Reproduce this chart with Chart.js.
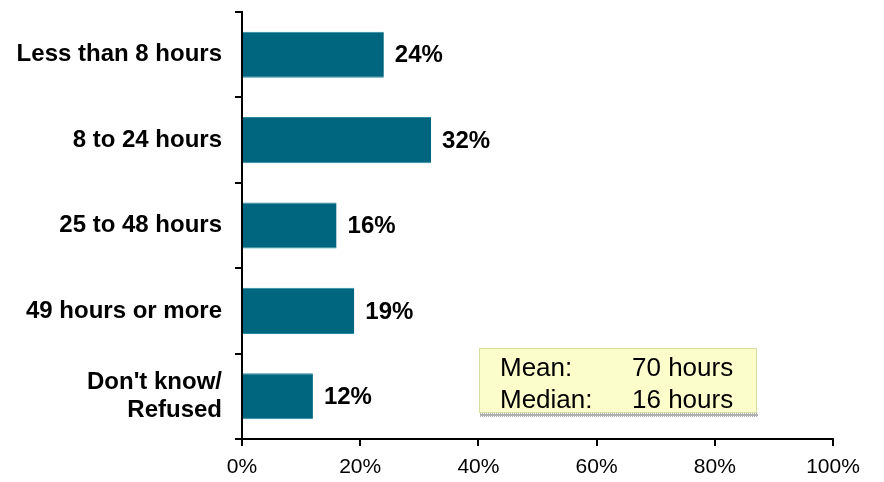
<!DOCTYPE html>
<html>
<head>
<meta charset="utf-8">
<script src="https://cdn.jsdelivr.net/npm/chart.js@4.4.1/dist/chart.umd.min.js"></script>
<style>
  html, body { margin: 0; padding: 0; background: #fff; }
  #wrap { width: 884px; height: 482px; }
</style>
</head>
<body>
<div id="wrap"><canvas id="chart" width="884" height="482"></canvas></div>
<script>
// chart data
const categories = ['Less than 8 hours', '8 to 24 hours', '25 to 48 hours', '49 hours or more', ["Don't know/", 'Refused']];
const values = [24, 32, 16, 19, 12];
const xTicks = [0, 20, 40, 60, 80, 100];
const statLabels = ['Mean:', 'Median:'];
const statValues = ['70 hours', '16 hours'];

const FONT = '"Liberation Sans", Arial, sans-serif';
const barColor = '#00667f';

// percent labels at the end of each bar
const valueLabels = {
  id: 'valueLabels',
  afterDatasetsDraw(chart) {
    const ctx = chart.ctx;
    const meta = chart.getDatasetMeta(0);
    ctx.save();
    ctx.font = 'bold 24px ' + FONT;
    ctx.fillStyle = '#000';
    ctx.textAlign = 'left';
    ctx.textBaseline = 'middle';
    meta.data.forEach((bar, i) => {
      ctx.fillText(values[i] + '%', bar.x + 11, bar.y + 1);
    });
    ctx.restore();
  }
};

// mean / median box
const statsBox = {
  id: 'statsBox',
  afterDraw(chart) {
    const ctx = chart.ctx;
    const x = 479, y = 348, w = 278, h = 65;
    ctx.save();
    // dotted shadow underneath
    ctx.fillStyle = '#b0b0b0';
    for (let i = x + 1; i < x + w; i += 2) {
      ctx.fillRect(i, y + h, 1, 4);
      ctx.fillRect(i + 1, y + h + 1, 1, 2);
    }
    ctx.fillStyle = '#fbfdcb';
    ctx.fillRect(x, y, w, h);
    ctx.strokeStyle = '#d6dea0';
    ctx.lineWidth = 1;
    ctx.strokeRect(x + 0.5, y + 0.5, w - 1, h - 1);
    ctx.font = '26px ' + FONT;
    ctx.fillStyle = '#000';
    ctx.textBaseline = 'middle';
    statLabels.forEach((lab, i) => {
      const ty = y + 21 + i * 32;
      ctx.fillText(lab, x + 21, ty);
      ctx.fillText(statValues[i], x + 153, ty);
    });
    ctx.restore();
  }
};

new Chart(document.getElementById('chart'), {
  type: 'bar',
  data: {
    labels: categories,
    datasets: [{
      data: values,
      backgroundColor: barColor,
      borderColor: '#2a8aa0',
      borderWidth: { top: 1, bottom: 1, left: 0, right: 0 },
      borderSkipped: false,
      categoryPercentage: 0.54,
      barPercentage: 1
    }]
  },
  options: {
    indexAxis: 'y',
    responsive: false,
    animation: false,
    layout: { padding: { top: 12, right: 51, left: 0, bottom: 0 } },
    plugins: { legend: { display: false }, tooltip: { enabled: false } },
    scales: {
      x: {
        min: 0,
        max: 100,
        afterBuildTicks(axis) { axis.ticks = xTicks.map(v => ({ value: v })); },
        afterFit(axis) { axis.height = 43; axis.paddingLeft = 0; axis.paddingRight = 0; },
        border: { display: true, color: '#000', width: 2 },
        grid: { drawOnChartArea: false, drawTicks: true, tickLength: 7, color: '#000', lineWidth: 2 },
        ticks: {
          color: '#000',
          font: { family: FONT, size: 21 },
          padding: 9,
          maxRotation: 0,
          callback: v => v + '%'
        }
      },
      y: {
        afterFit(axis) { axis.width = 242; axis.paddingTop = 0; axis.paddingBottom = 0; },
        border: { display: true, color: '#000', width: 2 },
        grid: { drawOnChartArea: false, drawTicks: true, tickLength: 7, color: '#000', lineWidth: 2, offset: true },
        ticks: {
          color: '#000',
          font: { family: FONT, size: 24, weight: 'bold', lineHeight: 1.15 },
          padding: 13
        }
      }
    }
  },
  plugins: [valueLabels, statsBox]
});
</script>
</body>
</html>
